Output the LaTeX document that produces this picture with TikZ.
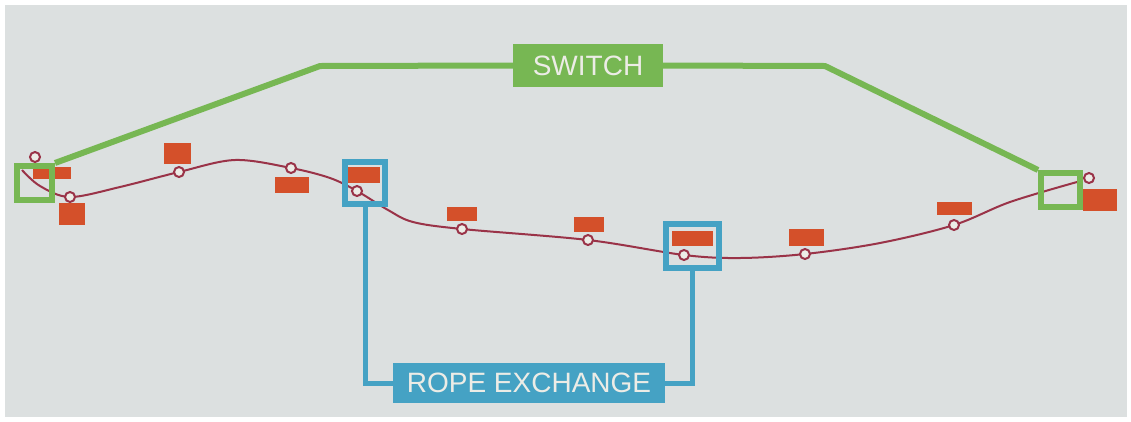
\documentclass[tikz,border=0pt]{standalone}
\usepackage{fontspec}
\setmainfont{Liberation Sans}
\definecolor{swgreen}{HTML}{77B753}
\definecolor{rxblue}{HTML}{45A2C4}
\definecolor{tagred}{HTML}{D4502A}
\definecolor{ropered}{HTML}{9A3348}
\definecolor{screen}{HTML}{DCE0E0}
\definecolor{paper}{HTML}{ECECE6}

\begin{document}
\begin{tikzpicture}[x=1pt,y=-1pt,
  rope/.style={ropered, line width=2pt},
  station/.style={circle, draw=ropered, line width=2pt, fill=paper, minimum size=10pt, inner sep=0pt},
  tag/.style={fill=tagred, inner sep=0pt},
  swbox/.style={draw=swgreen, line width=6pt, inner sep=0pt},
  rxbox/.style={draw=rxblue, line width=6pt, inner sep=0pt},
  swline/.style={swgreen, line width=6pt},
  rxline/.style={rxblue, line width=5pt},
  big/.style={text=paper, font=\fontsize{28}{28}\selectfont, inner sep=0pt}]
\useasboundingbox (0,0) rectangle (1131,421);
\fill[white] (0,0) rectangle (1131,421);
\fill[screen] (5,5) rectangle (1127,417);

% points on the rope
\coordinate (r0) at (22,170);
\coordinate (p1) at (70,197);
\coordinate (p2) at (179,172);
\coordinate (p3) at (291,168);
\coordinate (p4) at (357,191);
\coordinate (p5) at (462,229);
\coordinate (p6) at (588,240);
\coordinate (p7) at (684,255);
\coordinate (p8) at (805,254);
\coordinate (p9) at (954,225);
\coordinate (r1) at (1077,182);

\draw[rope] plot[smooth, tension=0.55] coordinates {(r0) (40,186) (p1) (120,187) (p2) (235,160) (p3) (330,178) (p4) (388,210) (413,222) (p5) (p6) (p7) (740,258) (p8) (880,243) (p9) (1010,202) (r1)};

% stations
\node[station] (st0) at (35,157) {};
\node[station] (st1) at (p1) {};
\node[station] (st2) at (p2) {};
\node[station] (st3) at (p3) {};
\node[station] (st4) at (p4) {};
\node[station] (st5) at (p5) {};
\node[station] (st6) at (p6) {};
\node[station] (st7) at (p7) {};
\node[station] (st8) at (p8) {};
\node[station] (st9) at (p9) {};
\node[station] (st10) at (1089,178) {};

% station tags
\node[tag, minimum width=38pt, minimum height=12pt] (tg0) at (52,173) {};
\node[tag, minimum width=26pt, minimum height=22pt] (tg1) at (72,214) {};
\node[tag, minimum width=27pt, minimum height=21pt] (tg2) at (177,153) {};
\node[tag, minimum width=34pt, minimum height=16pt] (tg3) at (292,185) {};
\node[tag, minimum width=32pt, minimum height=16pt] (tg4) at (364,175) {};
\node[tag, minimum width=30pt, minimum height=14pt] (tg5) at (462,214) {};
\node[tag, minimum width=30pt, minimum height=15pt] (tg6) at (589,224) {};
\node[tag, minimum width=41pt, minimum height=15pt] (tg7) at (692,238) {};
\node[tag, minimum width=35pt, minimum height=17pt] (tg8) at (806,237) {};
\node[tag, minimum width=35pt, minimum height=13pt] (tg9) at (954,208) {};
\node[tag, minimum width=34pt, minimum height=22pt] (tg10) at (1100,200) {};

% switch
\node[swbox, minimum width=35pt, minimum height=34pt] (sw1) at (34.5,183) {};
\node[swbox, minimum width=39pt, minimum height=34pt] (sw2) at (1060.5,190) {};
\node[big, fill=swgreen, minimum width=150pt, minimum height=43pt] (switch) at (588,65.5) {SWITCH};
\draw[swline, line join=round] (sw1.north east) -- (320,66) -- (switch.west);
\draw[swline, line join=round] (switch.east) -- (825,66) -- (sw2.north west);

% rope exchange
\node[rxbox, minimum width=40pt, minimum height=42pt] (rx1) at (365,183) {};
\node[rxbox, minimum width=53pt, minimum height=44pt] (rx2) at (692.5,246) {};
\node[big, fill=rxblue, minimum width=272pt, minimum height=40pt] (exch) at (529,383) {ROPE EXCHANGE};
\draw[rxline] (rx1.south) |- (exch.west);
\draw[rxline] (rx2.south) |- (exch.east);
\end{tikzpicture}
\end{document}
